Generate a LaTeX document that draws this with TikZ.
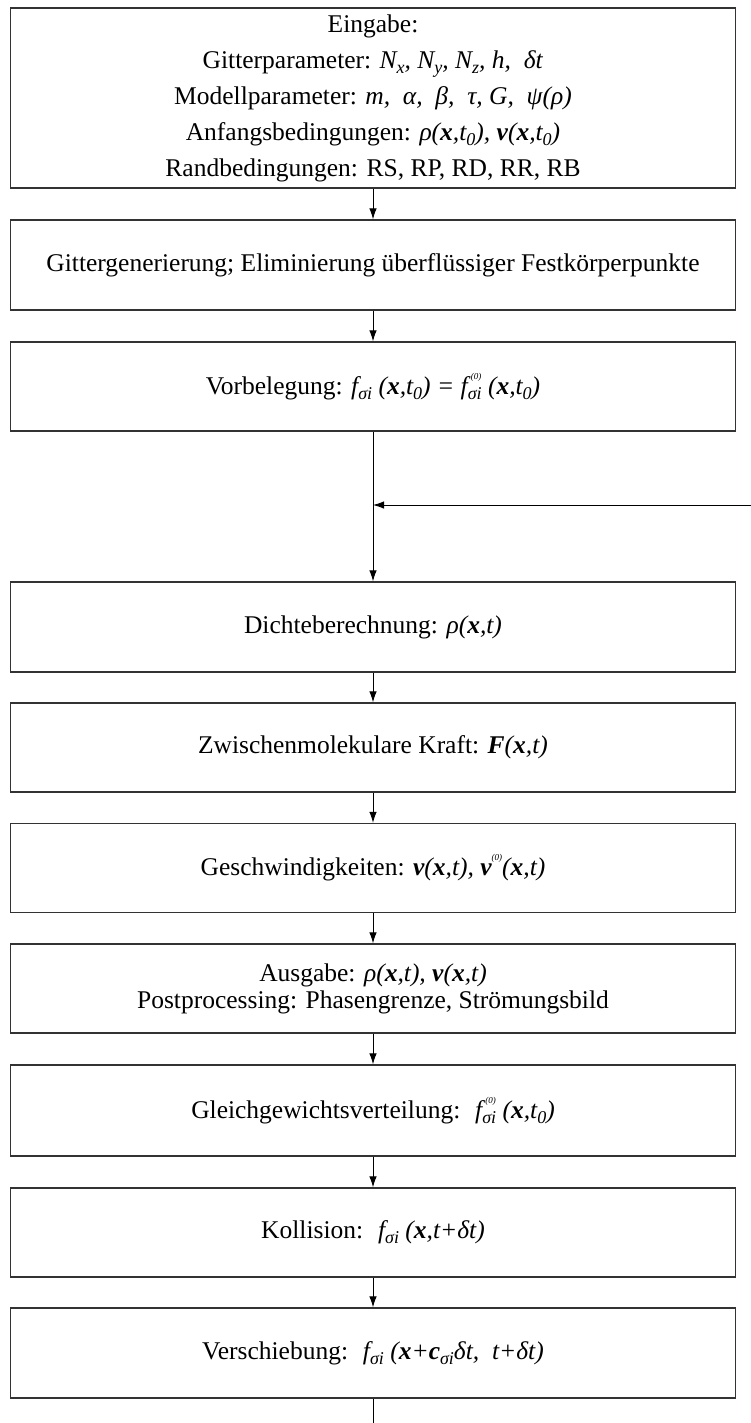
\documentclass[tikz,border=0pt]{standalone}
\usepackage{fontspec}
\setmainfont{Liberation Serif}
\usetikzlibrary{arrows.meta}
\newcommand{\vb}[1]{\textbf{\textit{#1}}}
\newcommand{\sbs}[1]{\raisebox{-5pt}{\fontsize{18}{18}\selectfont #1}}
\newcommand{\sps}[1]{\raisebox{15pt}{\fontsize{9}{9}\selectfont\itshape #1}}
\newcommand{\fsi}{\textit{f}\sbs{σ\textit{i}}}
\newcommand{\fsiz}{\textit{f}\rlap{\hspace{3pt}\sps{(0)}}\sbs{σ\textit{i}}}
\tikzset{
  box/.style={draw=black!80, line width=1.3pt, minimum width=725pt, align=center, inner sep=0pt,
    font=\fontsize{25.5}{27}\selectfont},
  arr/.style={line width=0.9pt, -{Latex[length=11pt,width=7.5pt]}},
  ln/.style={line width=0.9pt}
}
\begin{document}
\begin{tikzpicture}[x=1pt,y=-1pt]
\useasboundingbox (0,0) rectangle (751,1423);
\node[box, minimum height=180pt, font=\fontsize{25.5}{36}\selectfont] (b1) at (373,98) {Eingabe:\\
Gitterparameter: \textit{N\sbs{x}, N\sbs{y}, N\sbs{z}, h, \ δt}\\
Modellparameter: \textit{m, \ α, \ β, \ τ, G, \ ψ(ρ)}\\
Anfangsbedingungen: \textit{ρ(\vb{x},t\sbs{0}), \vb{v}(\vb{x},t\sbs{0})}\\
Randbedingungen: RS, RP, RD, RR, RB};
\node[box, minimum height=90pt] (b2) at (373,265) {Gittergenerierung; Eliminierung überflüssiger Festkörperpunkte};
\node[box, minimum height=89pt] (b3) at (373,386.5) {Vorbelegung: \textit{\fsi\ (\vb{x},t\sbs{0}) = \fsiz\ (\vb{x},t\sbs{0})}};
\node[box, minimum height=90pt] (b4) at (373,627) {Dichteberechnung: \textit{ρ(\vb{x},t)}};
\node[box, minimum height=89pt] (b5) at (373,747.5) {Zwischenmolekulare Kraft: \textit{\vb{F}(\vb{x},t)}};
\node[box, minimum height=89pt] (b6) at (373,868) {Geschwindigkeiten: \textit{\vb{v}(\vb{x},t), \vb{v}\sps{(0)}(\vb{x},t)}};
\node[box, minimum height=89pt] (b7) at (373,988.5) {Ausgabe: \textit{ρ(\vb{x},t), \vb{v}(\vb{x},t)}\\Postprocessing: Phasengrenze, Strömungsbild};
\node[box, minimum height=91pt] (b8) at (373,1110.5) {Gleichgewichtsverteilung: \ \textit{\fsiz\ (\vb{x},t\sbs{0})}};
\node[box, minimum height=89pt] (b9) at (373,1232.5) {Kollision: \ \textit{\fsi\ (\vb{x},t+δt)}};
\node[box, minimum height=90pt] (b10) at (373,1353) {Verschiebung: \ \textit{\fsi\ (\vb{x}+\vb{c}\sbs{σ\textit{i}}δt, \ t+δt)}};
\coordinate (le) at (751,505);
\coordinate (lj) at (373,505);
\coordinate (bend) at (373,1423);
\draw[arr] (b1) -- (b2);
\draw[arr] (b2) -- (b3);
\draw[arr] (b3) -- (b4);
\draw[arr] (le) -- (lj);
\draw[arr] (b4) -- (b5);
\draw[arr] (b5) -- (b6);
\draw[arr] (b6) -- (b7);
\draw[arr] (b7) -- (b8);
\draw[arr] (b8) -- (b9);
\draw[arr] (b9) -- (b10);
\draw[ln] (b10) -- (bend);
\end{tikzpicture}
\end{document}
